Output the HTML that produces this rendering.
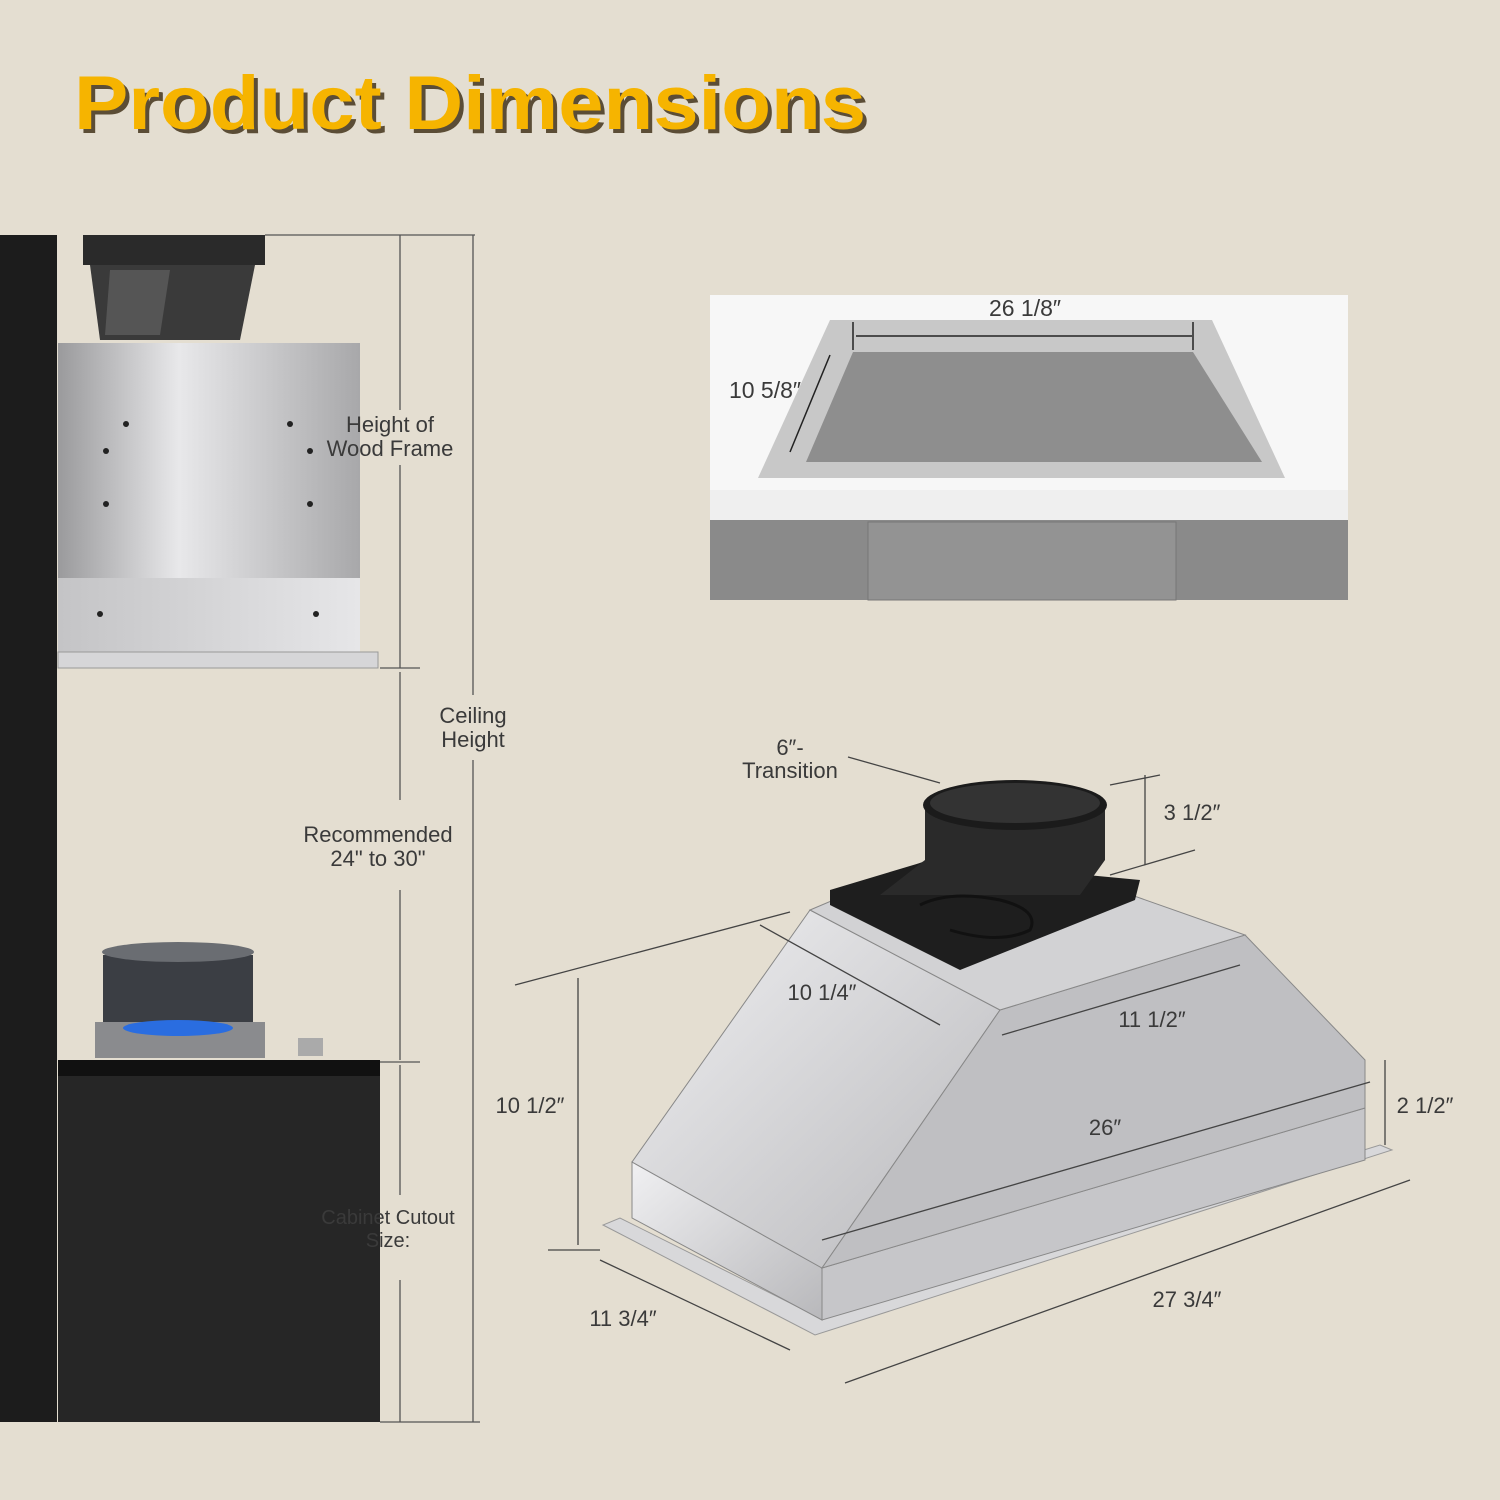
<!DOCTYPE html>
<html><head><meta charset="utf-8"><style>
html,body{margin:0;padding:0;background:#e4ded1;}
svg{display:block}
text{font-family:"Liberation Sans",sans-serif;fill:#3a3a3a}
</style></head><body>
<svg width="1500" height="1500" viewBox="0 0 1500 1500" xmlns="http://www.w3.org/2000/svg">
<defs>
<linearGradient id="ss" x1="0" y1="0" x2="1" y2="0"><stop offset="0" stop-color="#9a9a9c"/><stop offset="0.4" stop-color="#e8e8ea"/><stop offset="0.7" stop-color="#c8c8ca"/><stop offset="1" stop-color="#a8a8aa"/></linearGradient>
<linearGradient id="ss2" x1="0" y1="0" x2="1" y2="1"><stop offset="0" stop-color="#f0f0f2"/><stop offset="1" stop-color="#b8b8bb"/></linearGradient>
<linearGradient id="ss3" x1="0" y1="0" x2="1" y2="0"><stop offset="0" stop-color="#c4c4c6"/><stop offset="1" stop-color="#e6e6e8"/></linearGradient>
</defs>
<rect width="1500" height="1500" fill="#e4ded1"/>
<text x="78" y="133" font-size="76" font-weight="bold" textLength="792" lengthAdjust="spacingAndGlyphs" style="fill:#3a2a10" opacity="0.8">Product Dimensions</text>
<text x="74" y="129" font-size="76" font-weight="bold" textLength="792" lengthAdjust="spacingAndGlyphs" style="fill:#f6b400">Product Dimensions</text>

<rect x="0" y="235" width="57" height="1187" fill="#1c1c1c"/>
<rect x="83" y="235" width="182" height="30" fill="#2a2a2a"/>
<polygon points="90,265 255,265 240,340 100,340" fill="#3a3a3a"/>
<polygon points="110,270 170,270 160,335 105,335" fill="#555"/>
<rect x="58" y="343" width="302" height="235" fill="url(#ss)"/>
<rect x="58" y="578" width="302" height="74" fill="url(#ss3)"/>
<rect x="58" y="652" width="320" height="16" fill="#d6d6d8" stroke="#999"/>
<g fill="#222"><circle cx="126" cy="424" r="3"/><circle cx="290" cy="424" r="3"/><circle cx="106" cy="451" r="3"/><circle cx="310" cy="451" r="3"/><circle cx="106" cy="504" r="3"/><circle cx="310" cy="504" r="3"/><circle cx="100" cy="614" r="3"/><circle cx="316" cy="614" r="3"/></g>
<rect x="103" y="955" width="150" height="68" fill="#3b3e44"/>
<ellipse cx="178" cy="952" rx="76" ry="10" fill="#6a6d72"/>
<rect x="95" y="1022" width="170" height="36" fill="#8a8b8e"/>
<ellipse cx="178" cy="1028" rx="55" ry="8" fill="#2a6de0"/>
<rect x="298" y="1038" width="25" height="18" fill="#aaa"/>
<rect x="58" y="1060" width="322" height="16" fill="#111"/>
<rect x="58" y="1076" width="322" height="346" fill="#262626"/>
<g stroke="#555" stroke-width="1.3" fill="none">
<line x1="400" y1="235" x2="400" y2="410"/><line x1="400" y1="465" x2="400" y2="668"/>
<line x1="400" y1="672" x2="400" y2="800"/><line x1="400" y1="890" x2="400" y2="1060"/>
<line x1="400" y1="1065" x2="400" y2="1195"/><line x1="400" y1="1280" x2="400" y2="1422"/>
<line x1="473" y1="235" x2="473" y2="695"/><line x1="473" y1="760" x2="473" y2="1422"/>
<line x1="265" y1="235" x2="475" y2="235"/><line x1="380" y1="668" x2="420" y2="668"/>
<line x1="380" y1="1062" x2="420" y2="1062"/><line x1="380" y1="1422" x2="480" y2="1422"/>
</g>
<g font-size="22" text-anchor="middle">
<text x="390" y="432">Height of</text><text x="390" y="456">Wood Frame</text>
<text x="473" y="723">Ceiling</text><text x="473" y="747">Height</text>
<text x="378" y="842">Recommended</text><text x="378" y="866">24" to 30"</text>
<text x="388" y="1224" font-size="20">Cabinet Cutout</text><text x="388" y="1247" font-size="20">Size:</text>
</g>

<rect x="710" y="295" width="638" height="195" fill="#f7f7f7"/>
<polygon points="830,320 1212,320 1285,478 758,478" fill="#c8c8c8"/>
<polygon points="853,352 1193,352 1262,462 806,462" fill="#8e8e8e"/>
<rect x="710" y="490" width="638" height="30" fill="#efefef"/>
<rect x="710" y="520" width="638" height="80" fill="#8a8a8a"/>
<rect x="868" y="522" width="308" height="78" fill="#939393" stroke="#777"/>
<g stroke="#222" stroke-width="1.5"><line x1="856" y1="336" x2="1192" y2="336"/><line x1="853" y1="322" x2="853" y2="350"/><line x1="1193" y1="322" x2="1193" y2="350"/><line x1="830" y1="355" x2="790" y2="452"/></g>
<text x="1025" y="316" font-size="23" text-anchor="middle">26 1/8″</text>
<text x="765" y="398" font-size="23" text-anchor="middle">10 5/8″</text>

<polygon points="603,1225 815,1335 1392,1150 1380,1145 820,1318 620,1218" fill="#d8d8da" stroke="#999"/>
<polygon points="632,1162 822,1268 822,1320 632,1218" fill="url(#ss2)" stroke="#888"/>
<polygon points="822,1268 1365,1108 1365,1160 822,1320" fill="#c6c6c9" stroke="#888"/>
<polygon points="632,1162 810,910 1000,1010 822,1268" fill="url(#ss2)" stroke="#888"/>
<polygon points="822,1268 1000,1010 1245,935 1365,1060 1365,1108" fill="#bfbfc2" stroke="#888"/>
<polygon points="810,910 975,840 1245,935 1000,1010" fill="#d2d2d4" stroke="#888"/>
<polygon points="830,890 930,860 1140,880 1135,900 960,970 830,905" fill="#1e1e1e"/>
<path d="M880,895 L925,860 L925,805 L1105,805 L1105,860 L1080,895 Z" fill="#2a2a2a"/>
<ellipse cx="1015" cy="805" rx="92" ry="25" fill="#1b1b1b"/>
<ellipse cx="1015" cy="803" rx="85" ry="20" fill="#333"/>
<path d="M920,905 q30,-15 80,-5 q40,10 30,30 q-30,15 -80,0" stroke="#111" stroke-width="3" fill="none"/>
<g stroke="#444" stroke-width="1.3" fill="none">
<line x1="515" y1="985" x2="790" y2="912"/><line x1="578" y1="978" x2="578" y2="1245"/>
<line x1="548" y1="1250" x2="600" y2="1250"/>
<line x1="1145" y1="775" x2="1145" y2="865"/><line x1="1110" y1="785" x2="1160" y2="775"/><line x1="1110" y1="875" x2="1195" y2="850"/>
<line x1="760" y1="925" x2="940" y2="1025"/>
<line x1="1002" y1="1035" x2="1240" y2="965"/>
<line x1="822" y1="1240" x2="1370" y2="1082"/>
<line x1="1385" y1="1060" x2="1385" y2="1145"/>
<line x1="600" y1="1260" x2="790" y2="1350"/>
<line x1="845" y1="1383" x2="1410" y2="1180"/>
<line x1="848" y1="757" x2="940" y2="783"/>
</g>
<g font-size="22" text-anchor="middle">
<text x="790" y="755">6″-</text><text x="790" y="778">Transition</text>
<text x="1192" y="820">3 1/2″</text>
<text x="822" y="1000">10 1/4″</text>
<text x="1152" y="1027">11 1/2″</text>
<text x="530" y="1113">10 1/2″</text>
<text x="1425" y="1113">2 1/2″</text>
<text x="1105" y="1135">26″</text>
<text x="623" y="1326">11 3/4″</text>
<text x="1187" y="1307">27 3/4″</text>
</g>
</svg>
</body></html>
